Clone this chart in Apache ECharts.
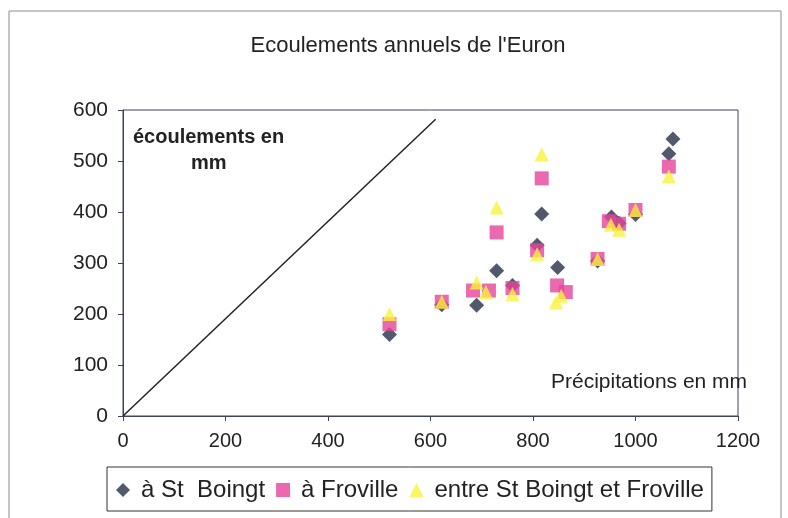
<!DOCTYPE html>
<html>
<head>
<meta charset="utf-8">
<script src="https://cdn.jsdelivr.net/npm/echarts@6/dist/echarts.min.js"></script>
<style>html,body{margin:0;padding:0;background:#fff}#c{width:788px;height:518px}</style>
</head>
<body>
<div id="c"></div>
<script>
// Data: [precipitation mm, runoff mm]
const stBoingt = [[520,160],[622,218],[690,217],[729,285],[760,256],[808,335],[817,396],[848,291],[926,304],[953,390],[968,378],[1000,395],[1065,514],[1073,543]];
const froville = [[520,180],[622,224],[683,246],[714,246],[729,360],[760,251],[808,325],[817,466],[847,256],[864,243],[926,308],[948,382],[968,377],[1000,404],[1065,489]];
const entre = [[520,200],[622,224],[690,262],[708,243],[729,409],[760,239],[808,317],[817,513],[845,223],[855,236],[926,308],[952,375],[968,365],[1000,404],[1065,470]];
const refLine = [[0,0],[610,582]];
const seriesNames = ['à St  Boingt','à Froville','entre St Boingt et Froville'];
const xTicks = {min:0, max:1200, interval:200};
const yTicks = {min:0, max:600, interval:100};

const FONT = 'Liberation Sans, Arial, sans-serif';
const axisCol = '#3d4260';
const chart = echarts.init(document.getElementById('c'), null, {renderer:'canvas'});
chart.setOption({
  animation:false,
  backgroundColor:'#fff',
  title:{text:'Ecoulements annuels de l\'Euron', left:403, top:30, textAlign:'center',
    textStyle:{fontFamily:FONT, fontSize:22, fontWeight:'normal', color:'#222'}},
  grid:{left:123, right:50, top:110, bottom:102, show:true, borderColor:axisCol, borderWidth:1, backgroundColor:'transparent'},
  xAxis:{type:'value', min:xTicks.min, max:xTicks.max, interval:xTicks.interval,
    axisLine:{show:true, lineStyle:{color:axisCol, width:1}},
    axisTick:{show:true, length:5, lineStyle:{color:axisCol}},
    splitLine:{show:false},
    axisLabel:{margin:15, fontFamily:FONT, fontSize:20, color:'#222', formatter:v => String(v)}},
  yAxis:{type:'value', min:yTicks.min, max:yTicks.max, interval:yTicks.interval,
    axisLine:{show:true, lineStyle:{color:axisCol, width:1}},
    axisTick:{show:true, length:5, lineStyle:{color:axisCol}},
    splitLine:{show:false},
    axisLabel:{margin:15, fontFamily:FONT, fontSize:21, color:'#222', formatter:v => String(v)}},
  legend:{left:107, top:467, padding:[11,8,9,9], itemGap:11,
    borderColor:'#333', borderWidth:1, itemWidth:14, itemHeight:14,
    textStyle:{fontFamily:FONT, fontSize:24, color:'#222', padding:[0,0,0,6]},
    data:seriesNames},
  graphic:[
    {type:'rect', shape:{x:9,y:11,width:772,height:540}, style:{fill:'none', stroke:'#8c8c8c', lineWidth:1}, silent:true, z:-1},
    {type:'text', left:133, top:127, style:{text:'écoulements en', fontFamily:FONT, fontSize:20, fontWeight:'bold', fill:'#222'}},
    {type:'text', left:191, top:153, style:{text:'mm', fontFamily:FONT, fontSize:20, fontWeight:'bold', fill:'#222'}},
    {type:'text', left:551, top:372, style:{text:'Précipitations en mm', fontFamily:FONT, fontSize:21, fill:'#222'}}
  ],
  series:[
    {type:'line', data:refLine, symbol:'none', silent:true, lineStyle:{color:'#222', width:1.5}, z:1},
    {name:seriesNames[0], type:'scatter', data:stBoingt, symbol:'diamond', symbolSize:15, itemStyle:{color:'#263048'}, z:2},
    {name:seriesNames[1], type:'scatter', data:froville, symbol:'rect', symbolSize:14, itemStyle:{color:'#e6449b'}, z:3},
    {name:seriesNames[2], type:'scatter', data:entre, symbol:'triangle', symbolSize:14, itemStyle:{color:'#f8f23c'}, z:4}
  ]
});
</script>
</body>
</html>
